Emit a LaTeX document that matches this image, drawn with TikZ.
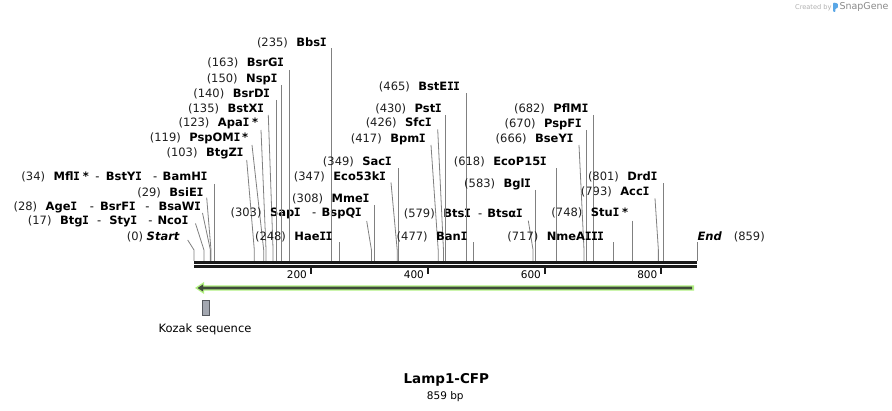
\documentclass[tikz,border=0pt]{standalone}
\usepackage{fontspec}
\setmainfont{DejaVu Sans}[BoldFont={DejaVu Sans Bold},ItalicFont={DejaVu Sans Oblique},BoldItalicFont={DejaVu Sans Bold Oblique}]
\newfontfamily\monobf{DejaVu Sans Mono Bold}
\newcommand\II{{\kern-0.35pt\monobf I\kern-0.35pt}}
\definecolor{numc}{HTML}{1E1E1E}
\definecolor{linec}{HTML}{808080}
\definecolor{axisc}{HTML}{1A1A1A}
\definecolor{featg}{HTML}{B2F082}
\definecolor{featd}{HTML}{3F4A3A}
\definecolor{kozf}{HTML}{A3A7B0}
\definecolor{kozd}{HTML}{55585E}
\definecolor{logoc}{HTML}{B0B0B0}
\definecolor{logod}{HTML}{8A8A8A}
\definecolor{logob}{HTML}{5AA7E6}
\tikzset{
  lab/.style={font=\fontsize{11.5}{13}\selectfont, inner sep=0pt, text=black},
  siteline/.style={draw=linec, line width=0.8pt},
  ticklab/.style={font=\fontsize{10.5}{12}\selectfont, inner sep=0pt, anchor=east},
}
\newcommand\enzlab[7]{%
  \node[lab,anchor=east] (L#1) at (#2,#3) {\textcolor{numc}{(#6)}\hspace{8.5pt}#7};
  \coordinate (T#1) at (#4,#5);
  \coordinate (B#1) at ({194+0.5856*#6},250);
  \coordinate (F#1) at ({194+0.5856*#6},261);
  \draw[siteline] (T#1) -- (B#1) -- (F#1);
}
\newcommand\enzstr[6]{%
  \node[lab,anchor=east] (L#1) at (#2,#3) {\textcolor{numc}{(#5)}\hspace{8.5pt}#6};
  \coordinate (T#1) at ({194+0.5856*#5},#4);
  \coordinate (F#1) at ({194+0.5856*#5},261);
  \draw[siteline] (T#1) -- (F#1);
}
\begin{document}
\begin{tikzpicture}[x=1pt,y=-1pt]
\useasboundingbox (0,0) rectangle (892,411);
\fill[white] (0,0) rectangle (892,411);

% logo
\node[inner sep=0pt, anchor=west, text=logoc, font=\fontsize{6.6}{8}\selectfont] (logo1) at (795,7.3) {Created by};
\fill[logob, rounded corners=0.8pt] (833.2,2.5) -- (837.8,3.5) -- (837.8,8) -- (835.3,8.6) -- (835.3,12) -- (833.2,12) -- cycle;
\node[inner sep=0pt, anchor=west, text=logod, font=\fontsize{9.5}{11}\selectfont] (logo2) at (839.3,7.3) {SnapGene};

% start / end
\node[lab,anchor=east] (Lstart) at (180,236.7) {\textcolor{numc}{(0)}\hspace{3.5pt}\textbf{\textit{Start}}};
\coordinate (Tstart) at (187.7,240);
\coordinate (Bstart) at (194,250);
\coordinate (Fstart) at (194,261);
\draw[siteline] (Tstart) -- (Bstart) -- (Fstart);
\node[lab,anchor=west] (Lend) at (697.3,236.7) {\textbf{\textit{End}}\hspace{12pt}\textcolor{numc}{(859)}};
\coordinate (Tend) at (697,242.3);
\coordinate (Fend) at (697,261);
\draw[siteline] (Tend) -- (Fend);

% slanted connectors
\enzlab{btgi}{188.3}{221.7}{195.5}{223.5}{17}{\textbf{Btg\II}\hspace{8.5pt}-\hspace{8pt}\textbf{Sty\II}\hspace{11.5pt}-\hspace{5pt}\textbf{Nco\II}}
\enzlab{agei}{201}{207.3}{202.5}{213}{28}{\textbf{Age\II}\hspace{13pt}-\hspace{6pt}\textbf{BsrF\II}\hspace{10pt}-\hspace{9pt}\textbf{BsaW\II}}
\enzlab{bsiei}{203.3}{192.7}{206.7}{197.7}{29}{\textbf{BsiE\II}}
\enzlab{btgzi}{243.3}{153.3}{246.7}{160}{103}{\textbf{BtgZ\II}}
\enzlab{pspomi}{248.3}{138}{252}{145}{119}{\textbf{PspOM\II}\hspace{2pt}\textbf{*}}
\enzlab{apai}{258.3}{123.5}{261}{130}{123}{\textbf{Apa\II}\hspace{3pt}\textbf{*}}
\enzlab{bstxi}{264}{108.5}{268.3}{115}{135}{\textbf{BstX\II}}
\enzlab{sapi}{361.7}{213.3}{366.7}{221}{303}{\textbf{Sap\II}\hspace{11.5pt}-\hspace{5.5pt}\textbf{BspQ\II}}
\enzlab{eco53ki}{386}{177.3}{391}{182.5}{347}{\textbf{Eco53k\II}}
\enzlab{bpmi}{425.7}{139}{431}{145}{417}{\textbf{Bpm\II}}
\enzlab{sfci}{431.7}{123.3}{437.7}{129.3}{426}{\textbf{Sfc\II}}
\enzlab{btsi}{522.7}{214}{528.3}{220.7}{579}{\textbf{Bts\II}\hspace{7.5pt}-\hspace{5pt}\textbf{Btsα\II}}
\enzlab{bseyi}{573.3}{139.3}{579}{145}{666}{\textbf{BseY\II}}
\enzlab{acci}{649.3}{192.3}{655}{198.3}{793}{\textbf{Acc\II}}

% straight connectors
\enzstr{mfli}{207.3}{176.7}{184}{34}{\textbf{Mfl\II}\hspace{3pt}\textbf{*}\hspace{6.5pt}-\hspace{6.5pt}\textbf{BstY\II}\hspace{11.5pt}-\hspace{5.5pt}\textbf{BamH\II}}
\enzstr{bsrdi}{270}{94.3}{100}{140}{\textbf{BsrD\II}}
\enzstr{nspi}{277.3}{79.3}{85}{150}{\textbf{Nsp\II}}
\enzstr{bsrgi}{284}{63.3}{70}{163}{\textbf{BsrG\II}}
\enzstr{bbsi}{326.7}{42.7}{48.3}{235}{\textbf{Bbs\II}}
\enzstr{haeii}{332.3}{237.3}{242.3}{248}{\textbf{Hae\II\II}}
\enzstr{mmei}{369.3}{199.3}{205}{308}{\textbf{Mme\II}}
\enzstr{saci}{391.7}{162.3}{168.3}{349}{\textbf{Sac\II}}
\enzstr{psti}{441.7}{109}{115}{430}{\textbf{Pst\II}}
\enzstr{bsteii}{460}{86.7}{93.3}{465}{\textbf{BstE\II\II}}
\enzstr{bani}{467.3}{236.7}{242.3}{477}{\textbf{Ban\II}}
\enzstr{bgli}{531}{184}{190}{583}{\textbf{Bgl\II}}
\enzstr{ecop15i}{546.7}{161.7}{168.3}{618}{\textbf{EcoP15\II}}
\enzstr{pspfi}{581.7}{124}{130}{670}{\textbf{PspF\II}}
\enzstr{pflmi}{588.3}{109}{115}{682}{\textbf{PflM\II}}
\enzstr{nmeaiii}{604}{236.7}{242.3}{717}{\textbf{NmeA\II\II\II}}
\enzstr{stui}{628.3}{213.3}{220.7}{748}{\textbf{Stu\II}\hspace{3pt}\textbf{*}}
\enzstr{drdi}{657.3}{176.7}{183.3}{801}{\textbf{Drd\II}}

% axis
\coordinate (ax0) at (194,262.5);
\coordinate (ax1) at (697,262.5);
\coordinate (bx0) at (194,266.6);
\coordinate (bx1) at (697,266.6);
\draw[axisc, line width=3pt] (ax0) -- (ax1);
\draw[axisc, line width=2.4pt] (bx0) -- (bx1);
\foreach \t/\xx in {200/310.6, 400/427.6, 600/544.6, 800/661} {
  \coordinate (tk\t) at (\xx,267.8);
  \coordinate (tke\t) at (\xx,274.5);
  \draw[axisc, line width=2pt] (tk\t) -- (tke\t);
  \node[ticklab] (tl\t) at (\xx-3.5,274.2) {\t};
}

% feature arrow
\fill[featg] (195,288) -- (204,282) -- (204,285.3) -- (694,285.3) -- (694,290.7) -- (204,290.7) -- (204,294) -- cycle;
\fill[featd] (197.5,288) -- (203,284.5) -- (203,286.7) -- (692,286.7) -- (692,289.3) -- (203,289.3) -- (203,291.5) -- cycle;

% Kozak
\node[draw=kozd, fill=kozf, line width=0.8pt, minimum width=6.3pt, minimum height=15pt, inner sep=0pt] (koz) at (205.8,308.2) {};
\node[lab] (kozlab) at (205,329.5) {Kozak sequence};

% title
\node[inner sep=0pt, font=\fontsize{13.5}{16}\selectfont\bfseries] (title) at (446.3,379.5) {Lamp1-CFP};
\node[inner sep=0pt, font=\fontsize{10.5}{12}\selectfont] (bp) at (445.3,396.5) {859 bp};
\end{tikzpicture}
\end{document}
